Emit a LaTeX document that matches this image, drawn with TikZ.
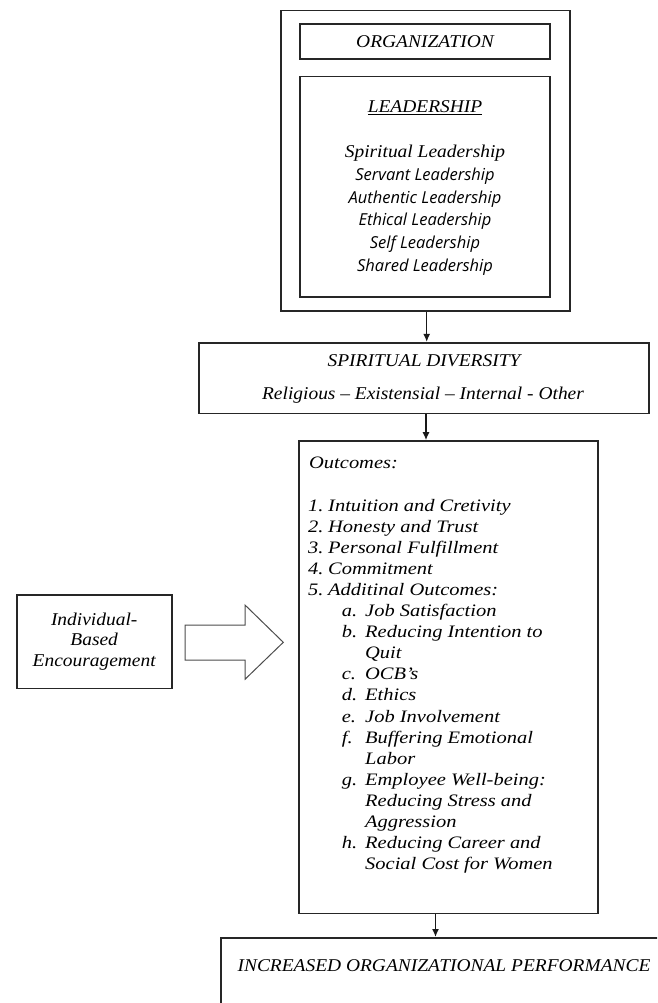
\documentclass[tikz,border=0pt]{standalone}
\usepackage{fontspec}
\setmainfont{Liberation Serif}
\newfontfamily\headserif[FakeStretch=1.08]{Liberation Serif}
\newfontfamily\listserif[FakeStretch=1.17]{Liberation Serif}
\newfontfamily\leadsans{Open Sans}
\usetikzlibrary{arrows.meta}
\begin{document}
\begin{tikzpicture}[x=1pt,y=-1pt,
  box/.style={draw=black!85, line width=1.6pt, inner sep=0pt},
  lbl/.style={inner sep=0pt, font=\fontsize{18}{21}\selectfont\headserif\itshape},
  item/.style={inner sep=0pt, font=\fontsize{17.5}{21}\selectfont\listserif\itshape},
  sub/.style={inner sep=0pt, font=\fontsize{16.5}{20}\selectfont\leadsans\itshape},
  flow/.style={draw=black!90, line width=1.4pt, -{Latex[length=8pt,width=7pt]}},
  hollow/.style={draw=black!70, line width=1pt, line join=miter},
]
\clip (0,0) rectangle (657,1003);
\useasboundingbox (0,0) rectangle (657,1003);

% organisation block with its two inner frames
\node[box, minimum width=289pt, minimum height=300.3pt] (org) at (425.5,160.85) {};
\node[box, minimum width=250pt, minimum height=35pt] (orgtitle) at (425,41.8) {};
\node[box, minimum width=250pt, minimum height=220.3pt] (lead) at (425,186.85) {};
\node[lbl, anchor=base] (orgtext) at (425,47.7) {ORGANIZATION};
\node[lbl, anchor=base] (leadtitle) at (425,113) {\underline{LEADERSHIP}};
\node[lbl, anchor=base] (l0) at (425,158) {Spiritual Leadership};
\foreach \t [count=\i] in {Servant Leadership, Authentic Leadership,
    Ethical Leadership, Self Leadership, Shared Leadership}
  \node[sub, anchor=base] (l\i) at (425,158+22.6*\i) {\t};

% spiritual diversity
\node[box, minimum width=449.7pt, minimum height=70.6pt] (div) at (423.85,378) {};
\node[lbl, anchor=base] (divtitle) at (424,366.7) {SPIRITUAL DIVERSITY};
\node[lbl, anchor=base] (divtypes) at (423,399.5) {Religious – Existensial – Internal - Other};

% outcomes
\node[box, minimum width=298.7pt, minimum height=472.3pt] (out) at (448.35,677.15) {};
\node[item, anchor=base west] (outtitle) at (309,468) {Outcomes:};
\foreach \n/\t [count=\i from 0] in {1./Intuition and Cretivity, 2./Honesty and Trust,
    3./Personal Fulfillment, 4./Commitment, 5./Additinal Outcomes:} {
  \node[item, anchor=base west] (n\i) at (308,511+21.1*\i) {\n};
  \node[item, anchor=base west] (t\i) at (328,511+21.1*\i) {\t};
}
\foreach \r/\t in {5/Job Satisfaction, 6/Reducing Intention to, 7/Quit,
    8/OCB’s, 9/Ethics, 10/Job Involvement, 11/Buffering Emotional, 12/Labor,
    13/Employee Well-being:, 14/Reducing Stress and, 15/Aggression,
    16/Reducing Career and, 17/Social Cost for Women}
  \node[item, anchor=base west] (s\r) at (365,511+21.1*\r) {\t};
\foreach \n/\r in {a/5, b/6, c/8, d/9, e/10, f/11, g/13, h/16}
  \node[item, anchor=base west] (m\r) at (341.7,511+21.1*\r) {\n.};

% individual encouragement and its hollow arrow
\node[box, minimum width=155pt, minimum height=93.3pt] (ind) at (94.2,641.65) {};
\node[lbl, anchor=base] (ind1) at (94.2,625) {Individual-};
\node[lbl, anchor=base] (ind2) at (94.2,645.5) {Based};
\node[lbl, anchor=base] (ind3) at (94.2,666) {Encouragement};
\draw[hollow] (185,625) -- (245,625) -- (245,605) -- (283.3,642.3)
  -- (245,679.3) -- (245,660) -- (185,660) -- cycle;

% performance
\node[box, anchor=north west, minimum width=470pt, minimum height=100pt] (perf) at (220,937) {};
\node[lbl, anchor=base] (perftext) at (444,971.7) {INCREASED ORGANIZATIONAL PERFORMANCE};

% flow arrows
\coordinate (c1) at (426.7,0);
\coordinate (c2) at (426,0);
\coordinate (c3) at (435.5,0);
\draw[flow] (org.south -| c1) -- (div.north -| c1);
\draw[flow] (div.south -| c2) -- (out.north -| c2);
\draw[flow] (out.south -| c3) -- (perf.north -| c3);
\end{tikzpicture}
\end{document}
